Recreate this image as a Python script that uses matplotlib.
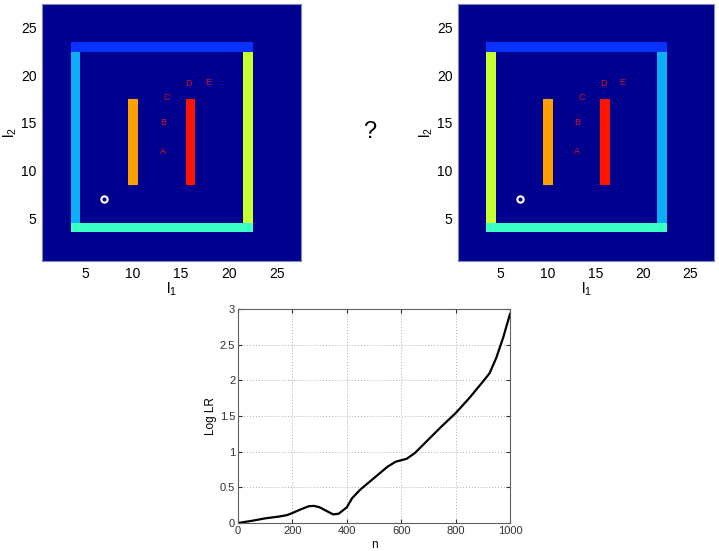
import numpy as np
import matplotlib
matplotlib.use('Agg')
import matplotlib.pyplot as plt
from matplotlib.colors import ListedColormap

plt.rcParams['font.family'] = ['Liberation Sans', 'DejaVu Sans']
plt.rcParams['mathtext.default'] = 'regular'

# grid size of the maze images
grid_n = 27

# bars: (col_lo, col_hi, row_lo, row_hi, colour code)
bars_left = [
    (4, 22, 23, 23, 1),   # top
    (4, 4, 5, 22, 2),     # left side
    (22, 22, 5, 22, 4),   # right side
    (4, 22, 4, 4, 3),     # bottom
    (10, 10, 9, 17, 5),   # orange bar
    (16, 16, 9, 17, 6),   # red bar
]
bars_right = [
    (4, 22, 23, 23, 1),
    (4, 4, 5, 22, 4),
    (22, 22, 5, 22, 2),
    (4, 22, 4, 4, 3),
    (10, 10, 9, 17, 5),
    (16, 16, 9, 17, 6),
]
cell_colors = ['#00008F', '#0832FF', '#0CAEF5', '#3CFFC3', '#C8FF30',
               '#FFA000', '#FF1400']

start_pos = (7, 7)
letters = ['A', 'B', 'C', 'D', 'E']
letter_x = [13.1, 13.1, 13.5, 15.8, 17.8]
letter_y = [12.0, 15.0, 17.7, 19.2, 19.3]

# log likelihood ratio curve
n_vals = [0, 50, 100, 150, 180, 200, 230, 260, 280, 300, 330, 350, 370,
          400, 420, 450, 500, 550, 580, 600, 620, 650, 700, 750, 800,
          850, 900, 925, 950, 975, 1000]
log_lr = [0.0, 0.03, 0.065, 0.09, 0.11, 0.14, 0.19, 0.235, 0.24, 0.22,
          0.16, 0.12, 0.13, 0.22, 0.35, 0.47, 0.63, 0.79, 0.86, 0.88,
          0.9, 0.98, 1.17, 1.36, 1.54, 1.75, 1.98, 2.1, 2.32, 2.6, 2.93]


def make_grid(bars):
    grid = np.zeros((grid_n, grid_n), dtype=int)
    for c0, c1, r0, r1, code in bars:
        grid[r0 - 1:r1, c0 - 1:c1] = code
    return grid


def draw_maze(ax, bars):
    grid = make_grid(bars)
    ax.imshow(grid, cmap=ListedColormap(cell_colors), vmin=-0.5,
              vmax=len(cell_colors) - 0.5, origin='lower',
              extent=(0.5, grid_n + 0.5, 0.5, grid_n + 0.5),
              interpolation='nearest', aspect='auto')
    ax.plot(*start_pos, 'o', ms=4.5, mfc='#00008F', mec='white', mew=1.5)
    for s, x, y in zip(letters, letter_x, letter_y):
        ax.text(x, y, s, color='#E01020', fontsize=6.5, ha='center',
                va='center')
    ax.set_xticks([5, 10, 15, 20, 25])
    ax.set_yticks([5, 10, 15, 20, 25])
    ax.tick_params(length=0, labelsize=10, pad=4)
    for sp in ax.spines.values():
        sp.set_color('#7890b8')
        sp.set_linewidth(0.8)
    ax.set_xlabel('l$_1$', fontsize=11, labelpad=0)
    ax.set_ylabel('l$_2$', fontsize=11, labelpad=1)


W, H = 719, 551
fig = plt.figure(figsize=(W / 100, H / 100), dpi=100)

ax1 = fig.add_axes([42 / W, 1 - 261 / H, 259 / W, 257 / H])
draw_maze(ax1, bars_left)

ax2 = fig.add_axes([458 / W, 1 - 261 / H, 256 / W, 257 / H])
draw_maze(ax2, bars_right)

fig.text(370 / W, 1 - 132 / H, '?', fontsize=17, ha='center', va='center')

ax3 = fig.add_axes([238 / W, 1 - 523 / H, 272 / W, 214 / H])
ax3.plot(n_vals, log_lr, color='black', lw=1.6)
ax3.set_xlim(0, 1000)
ax3.set_ylim(0, 3)
ax3.set_xticks([0, 200, 400, 600, 800, 1000])
ax3.set_yticks([0, 0.5, 1, 1.5, 2, 2.5, 3])
ax3.set_yticklabels(['0', '0.5', '1', '1.5', '2', '2.5', '3'])
ax3.grid(True, color='#b0b0b0', linestyle=(0, (1, 2)), lw=0.7)
ax3.tick_params(direction='in', length=3, labelsize=8, pad=2,
                colors='#303030', top=True, right=True)
for sp in ax3.spines.values():
    sp.set_color('#606060')
    sp.set_linewidth(0.8)
ax3.set_xlabel('n', fontsize=8.5, labelpad=2)
ax3.set_ylabel('Log LR', fontsize=8.5, labelpad=2)

fig.savefig('out.png', dpi=100)
